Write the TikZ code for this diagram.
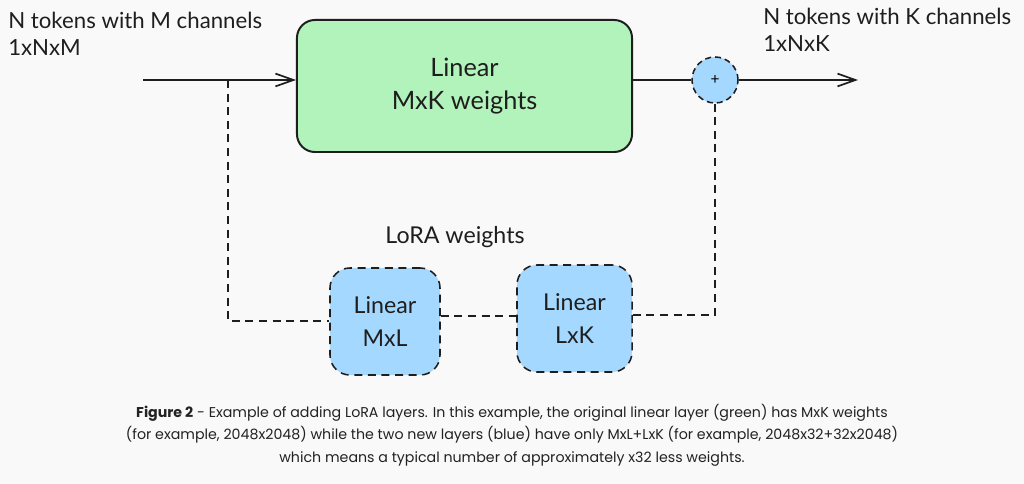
\documentclass[tikz,border=0pt]{standalone}
\usepackage{fontspec}
\setmainfont{Lato}
\newfontfamily\capfont{Poppins}
\usetikzlibrary{arrows.meta}
\definecolor{bg}{HTML}{F9F9F9}
\definecolor{ink}{HTML}{1E1E1E}
\definecolor{lgreen}{HTML}{B2F2BB}
\definecolor{lblue}{HTML}{A5D8FF}
\definecolor{captxt}{HTML}{222222}
\tikzset{
  hand/.style={font=\fontsize{15.8}{19}\selectfont, text=ink},
  mainbox/.style={draw=ink, line width=1.4pt, fill=lgreen, rounded corners=0.45cm,
    minimum width=8.375cm, minimum height=3.3cm, align=center, text=ink,
    font=\fontsize{18}{22}\selectfont},
  lorabox/.style={draw=ink, line width=1.1pt, dash pattern=on 0.2cm off 0.14cm, fill=lblue,
    rounded corners=0.5cm, minimum height=2.675cm, align=center, text=ink,
    font=\fontsize{16.5}{21}\selectfont},
  sumnode/.style={circle, draw=ink, line width=1.1pt, dash pattern=on 0.15cm off 0.1cm, fill=lblue,
    minimum size=1.15cm, inner sep=0pt, font=\fontsize{11}{12}\selectfont},
  flow/.style={draw=ink, line width=1.2pt},
  dashline/.style={draw=ink, line width=1.1pt, dash pattern=on 0.2cm off 0.14cm},
  arr/.style={-{Straight Barb[length=0.45cm,width=0.32cm,line width=1.2pt]}},
}
\begin{document}
\begin{tikzpicture}[x=0.025cm,y=-0.025cm]
\path[fill=bg] (0,0) rectangle (1024,484);
\useasboundingbox (0,0) rectangle (1024,484);

% nodes
\node[mainbox] (lin) at (464.5,86) {Linear\\[2pt]MxK weights};
\node[sumnode] (sum) at (715,80) {+};
\node[lorabox, minimum width=2.75cm] (mxl) at (385,321.5) {Linear\\[2pt]MxL};
\node[lorabox, minimum width=2.875cm] (lxk) at (574.5,318.5) {Linear\\[2pt]LxK};

\coordinate (in) at (143,80);
\coordinate (split) at (228,80);
\coordinate (out) at (858,80);

% labels
\node[hand, anchor=north west, align=left, inner sep=0pt] (inlbl) at (8,12) {N tokens with M channels\\1xNxM};
\node[hand, anchor=north west, align=left, inner sep=0pt] (outlbl) at (763,8) {N tokens with K channels\\1xNxK};
\node[hand, font=\fontsize{16.5}{20}\selectfont] (lora) at (455,237) {LoRA weights};

% main flow
\draw[flow, arr] (in) -- (lin.west |- in);
\draw[flow] (lin.east |- sum) -- (sum.west);
\draw[flow, arr] (sum.east) -- (out);

% lora path
\draw[dashline] (split) -- (split |- 0,321) -- (mxl.west |- 0,321);
\draw[dashline] (mxl.east |- 0,316) -- (lxk.west |- 0,316);
\draw[dashline] (lxk.east |- 0,315) -- (sum.south |- 0,315) -- (sum.south);

% caption
\node[font=\capfont\fontsize{10.1}{16}\selectfont, text=captxt, align=center] (cap) at (512,435)
{\textbf{Figure 2} - Example of adding LoRA layers. In this example, the original linear layer (green) has MxK weights\\
(for example, 2048x2048) while the two new layers (blue) have only MxL+LxK (for example, 2048x32+32x2048)\\
which means a typical number of approximately x32 less weights.};
\end{tikzpicture}
\end{document}
